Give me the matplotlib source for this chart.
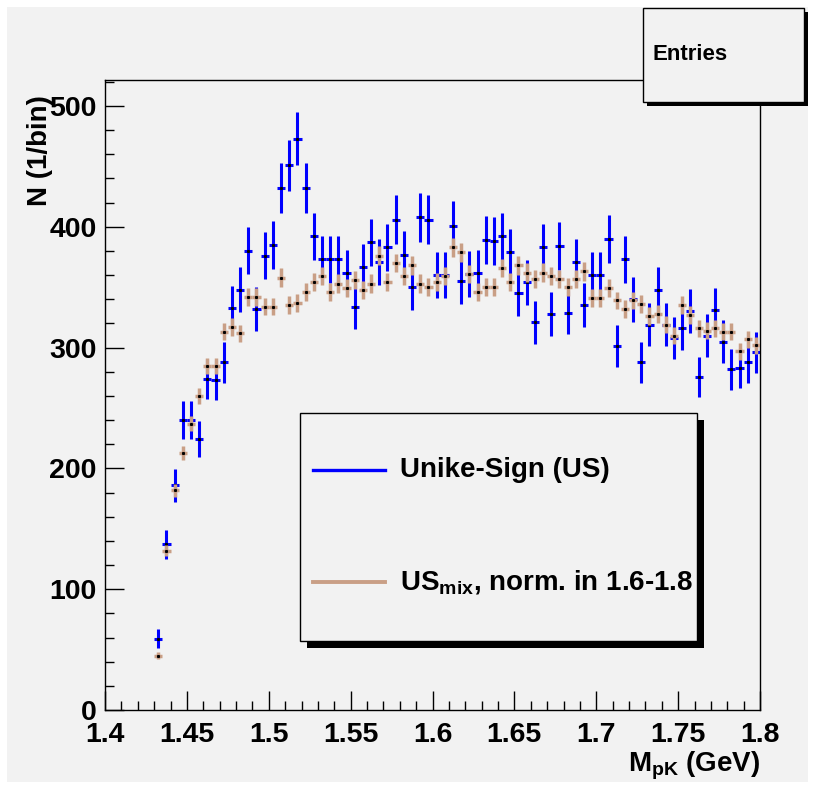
import numpy as np
import matplotlib
matplotlib.use('Agg')
import matplotlib.pyplot as plt
from matplotlib.patches import Rectangle
from matplotlib.lines import Line2D
from matplotlib.ticker import MultipleLocator

plt.rcParams['font.family'] = ['Liberation Sans', 'DejaVu Sans']
plt.rcParams['font.weight'] = 'bold'
plt.rcParams['mathtext.fontset'] = 'custom'
plt.rcParams['mathtext.rm'] = 'Liberation Sans:bold'
plt.rcParams['mathtext.it'] = 'Liberation Sans:bold'
plt.rcParams['mathtext.bf'] = 'Liberation Sans:bold'

# ---------------- data ----------------
bin_width = 0.005
first_center = 1.4325          # first non-empty bin
us_counts = [59, 137, 186, 240, 240, 224, 274, 273, 288, 333,
             348, 380, 332, 376, 385, 432, 451, 473, 432, 392,
             373, 373, 373, 362, 334, 367, 387, 371, 383, 406,
             377, 350, 408, 406, 360, 360, 401, 355, 361, 362,
             389, 388, 392, 379, 345, 354, 321, 383, 328, 384,
             329, 371, 335, 360, 360, 390, 301, 373, 340, 288,
             319, 348, 319, 308, 316, 330, 276, 310, 331, 305,
             282, 283, 288, 296]
mix_counts = [45, 132, 182, 213, 237, 260, 285, 285, 313, 317,
              312, 342, 342, 334, 334, 358, 335, 337, 346, 354,
              359, 346, 353, 349, 356, 348, 353, 376, 354, 370,
              359, 368, 353, 350, 354, 359, 383, 379, 361, 346,
              350, 350, 366, 354, 368, 362, 357, 362, 359, 357,
              350, 357, 363, 341, 341, 349, 339, 332, 339, 336,
              326, 328, 319, 310, 335, 327, 316, 314, 316, 313,
              313, 297, 307, 302]
mix_norm = 0.16               # normalisation factor of mixed-event histogram
x_ticks = [1.4, 1.45, 1.5, 1.55, 1.6, 1.65, 1.7, 1.75, 1.8]
x_tick_labels = ['1.4', '1.45', '1.5', '1.55', '1.6', '1.65', '1.7', '1.75', '1.8']
y_ticks = [0, 100, 200, 300, 400, 500]
y_tick_labels = ['0', '100', '200', '300', '400', '500']
legend_labels = ['Unike-Sign (US)', r'US$_{\rm mix}$, norm. in 1.6-1.8']

us = np.array(us_counts, dtype=float)
mix = np.array(mix_counts, dtype=float)
mass = first_center + bin_width * np.arange(len(us))
us_err = np.sqrt(us)
mix_err = np.sqrt(mix * mix_norm)

# ---------------- figure ----------------
W, H = 815, 789
BG = '#f2f2f2'
BLUE = '#0000ff'
TAN = '#c99f86'

fig = plt.figure(figsize=(W / 100, H / 100), dpi=100)
fig.patch.set_facecolor('white')


def frect(x0, y0, x1, y1, **kw):
    return Rectangle((x0 / W, 1 - y1 / H), (x1 - x0) / W, (y1 - y0) / H,
                     transform=fig.transFigure, **kw)


fig.add_artist(frect(7, 7, 808, 782, facecolor=BG, edgecolor='none', zorder=0))

ax = fig.add_axes([105 / W, 1 - 710 / H, 655 / W, 630 / H])
ax.set_facecolor(BG)
ax.set_xlim(1.4, 1.8)
ax.set_ylim(0, 521.5)

ax.errorbar(mass, us, yerr=us_err, xerr=bin_width / 2, fmt='none',
            ecolor=BLUE, elinewidth=2.2, capsize=0, zorder=3)
ax.plot(mass, us, linestyle='none', marker='s', ms=1.2, color='black', zorder=4)
ax.errorbar(mass, mix, yerr=mix_err, xerr=bin_width / 2, fmt='none',
            ecolor=TAN, elinewidth=2.5, capsize=0, zorder=5)
ax.plot(mass, mix, linestyle='none', marker='s', ms=1.2, color='black', zorder=6)

ax.set_xticks(x_ticks)
ax.set_xticklabels(x_tick_labels)
ax.set_yticks(y_ticks)
ax.set_yticklabels(y_tick_labels)
ax.xaxis.set_minor_locator(MultipleLocator(0.01))
ax.yaxis.set_minor_locator(MultipleLocator(20))
ax.tick_params(which='both', direction='in', top=False, right=False,
               labelsize=20.5, width=1, color='black')
ax.tick_params(which='major', length=13.5)
ax.tick_params(which='minor', length=6.8)
ax.tick_params(axis='x', pad=9)
ax.tick_params(axis='y', pad=6)
for lab in ax.get_xticklabels() + ax.get_yticklabels():
    lab.set_fontweight('bold')
for s in ax.spines.values():
    s.set_color('black')
    s.set_linewidth(1.0)

# axis titles
fig.text(40 / W, 1 - 95 / H, 'N (1/bin)', rotation=90, ha='center', va='top',
         fontsize=20, fontweight='bold')
fig.text(760 / W, 1 - 771 / H, r'M$_{\rm pK}$ (GeV)', ha='right', va='baseline',
         fontsize=20, fontweight='bold')

# stats box
fig.add_artist(frect(647, 12, 808, 106, facecolor='black', edgecolor='none', zorder=10))
fig.add_artist(frect(643, 8, 804, 102, facecolor=BG, edgecolor='black', lw=1, zorder=11))
fig.text(652 / W, 1 - 55 / H, 'Entries', ha='left', va='center', fontsize=16,
         fontweight='bold', zorder=12)

# legend box
fig.add_artist(frect(307, 420, 704, 648, facecolor='black', edgecolor='none', zorder=10))
fig.add_artist(frect(300, 413, 697, 641, facecolor=BG, edgecolor='black', lw=1, zorder=11))
fig.add_artist(Line2D([313 / W, 385 / W], [1 - 470 / H] * 2, transform=fig.transFigure,
                      color=BLUE, lw=2.4, zorder=12))
fig.add_artist(Line2D([313 / W, 385 / W], [1 - 582 / H] * 2, transform=fig.transFigure,
                      color=TAN, lw=2.8, zorder=12))
fig.text(400 / W, 1 - 470 / H, legend_labels[0], ha='left', va='center', fontsize=20,
         fontweight='bold', zorder=12)
fig.text(400 / W, 1 - 582 / H, legend_labels[1], ha='left', va='center', fontsize=20,
         fontweight='bold', zorder=12)

fig.savefig('out.png', dpi=100, facecolor=fig.get_facecolor())
